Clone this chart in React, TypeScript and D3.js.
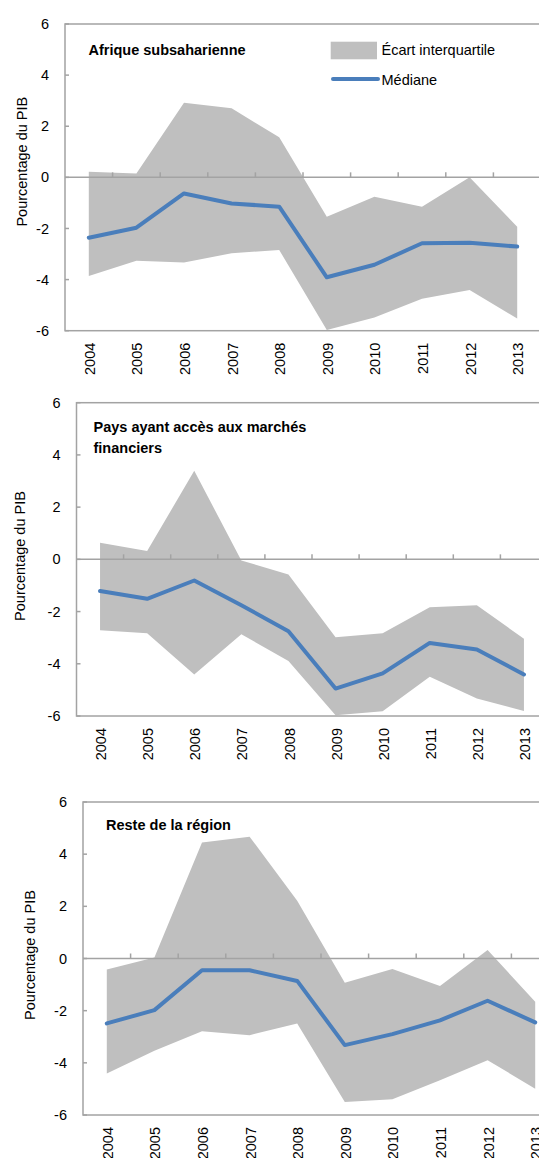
import * as d3 from "d3";

// années (axe des catégories)
const years = ["2004", "2005", "2006", "2007", "2008", "2009", "2010", "2011", "2012", "2013"];
const yTicks = [6, 4, 2, 0, -2, -4, -6];

// Afrique subsaharienne
const ssaQ3 = [0.22, 0.15, 2.92, 2.7, 1.57, -1.54, -0.76, -1.15, 0.0, -1.93];
const ssaQ1 = [-3.86, -3.26, -3.33, -2.97, -2.84, -5.97, -5.48, -4.75, -4.41, -5.52];
const ssaMed = [-2.36, -1.97, -0.63, -1.02, -1.15, -3.91, -3.42, -2.58, -2.56, -2.71];

// Pays ayant accès aux marchés financiers
const mktQ3 = [0.64, 0.32, 3.39, -0.04, -0.58, -2.98, -2.83, -1.83, -1.76, -3.04];
const mktQ1 = [-2.72, -2.83, -4.41, -2.87, -3.89, -5.97, -5.82, -4.5, -5.33, -5.81];
const mktMed = [-1.21, -1.51, -0.81, -1.76, -2.75, -4.95, -4.37, -3.2, -3.45, -4.41];

// Reste de la région
const restQ3 = [-0.42, 0.04, 4.45, 4.67, 2.21, -0.93, -0.4, -1.05, 0.33, -1.66];
const restQ1 = [-4.41, -3.54, -2.79, -2.94, -2.49, -5.5, -5.4, -4.67, -3.9, -4.99];
const restMed = [-2.49, -1.98, -0.45, -0.45, -0.86, -3.32, -2.9, -2.37, -1.62, -2.45];

const W = 539;
const H = 1158;
const FONT = "'Liberation Sans', Arial, sans-serif";
const GRAY_AXIS = "#a3a3a3";
const BAND = "#bfbfbf";
const BLUE = "#4a7ebb";

const panels = [
  {
    title: ["Afrique subsaharienne"],
    q3: ssaQ3, q1: ssaQ1, med: ssaMed,
    left: 65, top: 24, bottom: 330.7, step: 47.6,
    titleX: 88.5, titleY: 55, ytitleX: 22, ytitleY: 161.7, legend: true,
  },
  {
    title: ["Pays ayant accès aux marchés", "financiers"],
    q3: mktQ3, q1: mktQ1, med: mktMed,
    left: 76.5, top: 402.7, bottom: 716, step: 47.1,
    titleX: 93.5, titleY: 431.5, ytitleX: 19.8, ytitleY: 556, legend: false,
  },
  {
    title: ["Reste de la région"],
    q3: restQ3, q1: restQ1, med: restMed,
    left: 83, top: 802, bottom: 1115, step: 47.6,
    titleX: 106, titleY: 830, ytitleX: 29.7, ytitleY: 955, legend: false,
  },
];

const Panel = ({ p }: { p: (typeof panels)[number] }) => {
  const x = d3
    .scaleBand()
    .domain(years)
    .range([p.left, p.left + p.step * years.length])
    .padding(0);
  const y = d3.scaleLinear().domain([-6, 6]).range([p.bottom, p.top]);
  const cx = (i: number) => (x(years[i]) as number) + x.bandwidth() / 2;

  const area = d3
    .area<number>()
    .x((_, i) => cx(i))
    .y0((_, i) => y(p.q1[i]))
    .y1((_, i) => y(p.q3[i]));
  const line = d3
    .line<number>()
    .x((_, i) => cx(i))
    .y((d) => y(d));

  const right = W + 40;

  return (
    <g fontFamily={FONT}>
      <path d={area(p.q3) as string} fill={BAND} />
      {/* cadre de la zone de tracé */}
      <rect
        x={p.left}
        y={p.top}
        width={right - p.left}
        height={p.bottom - p.top}
        fill="none"
        stroke={GRAY_AXIS}
        strokeWidth={1.5}
      />
      {/* axe des catégories sur zéro */}
      <line x1={p.left} x2={right} y1={y(0)} y2={y(0)} stroke={GRAY_AXIS} strokeWidth={1.5} />
      {years.map((yr, i) =>
        i === 0 ? null : (
          <line
            key={"t" + yr}
            x1={x(yr)}
            x2={x(yr)}
            y1={y(0)}
            y2={y(0) - 5}
            stroke={GRAY_AXIS}
            strokeWidth={1.5}
          />
        )
      )}
      <path
        d={line(p.med) as string}
        fill="none"
        stroke={BLUE}
        strokeWidth={4}
        strokeLinejoin="round"
        strokeLinecap="round"
      />
      {/* axe des ordonnées */}
      {yTicks.map((t) => (
        <g key={"y" + t}>
          <line x1={p.left} x2={p.left + 4} y1={y(t)} y2={y(t)} stroke={GRAY_AXIS} strokeWidth={1.5} />
          <text x={p.left - 16} y={y(t)} dy="0.35em" textAnchor="end" fontSize={14.5} fill="#000">
            {t}
          </text>
        </g>
      ))}
      {years.map((yr, i) => (
        <text
          key={"l" + yr}
          transform={`translate(${cx(i) + 1},${p.bottom + 12}) rotate(-90)`}
          dy="0.35em"
          textAnchor="end"
          fontSize={14.5}
          fill="#000"
        >
          {yr}
        </text>
      ))}
      <text
        transform={`translate(${p.ytitleX},${p.ytitleY}) rotate(-90)`}
        dy="0.35em"
        textAnchor="middle"
        fontSize={14.5}
        fill="#000"
      >
        Pourcentage du PIB
      </text>
      {p.title.map((s, i) => (
        <text
          key={s}
          x={p.titleX}
          y={p.titleY + i * 21}
          fontSize={14.5}
          fontWeight="bold"
          fill="#000"
        >
          {s}
        </text>
      ))}
      {p.legend && (
        <g>
          <rect x={330.7} y={41.7} width={46.3} height={17.6} fill={BAND} />
          <text x={381.5} y={55} fontSize={14.5} fill="#000">
            Écart interquartile
          </text>
          <line x1={333} x2={378} y1={79} y2={79} stroke={BLUE} strokeWidth={4} strokeLinecap="round" />
          <text x={381.5} y={84.5} fontSize={14.5} fill="#000">
            Médiane
          </text>
        </g>
      )}
    </g>
  );
};

export default function App() {
  return (
    <svg
      width={W}
      height={H}
      viewBox={`0 0 ${W} ${H}`}
      style={{ position: "absolute", left: 0, top: 0, background: "#fff" }}
    >
      {panels.map((p, i) => (
        <Panel key={i} p={p} />
      ))}
    </svg>
  );
}
